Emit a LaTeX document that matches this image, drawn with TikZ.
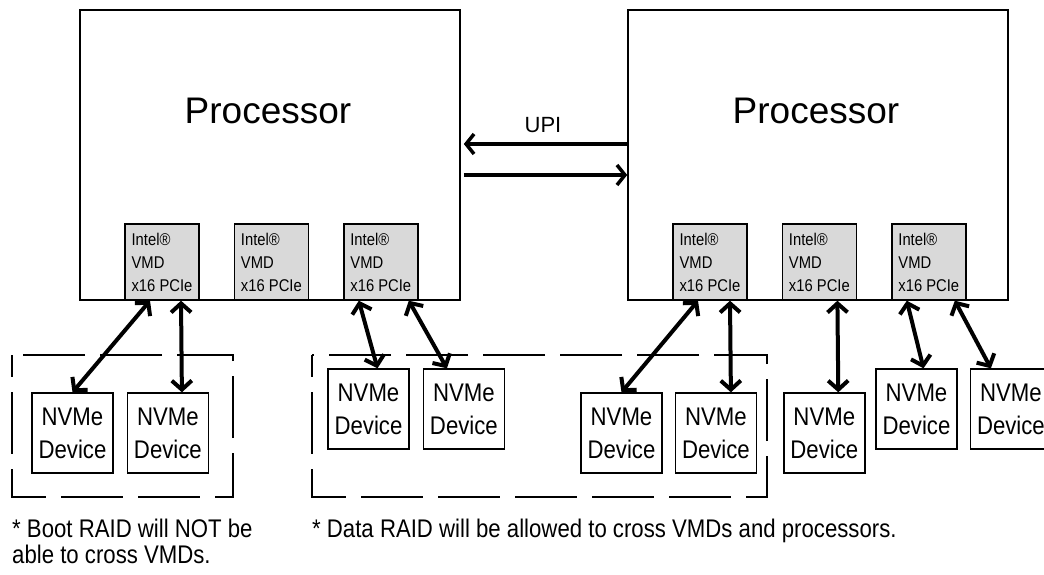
\documentclass[tikz,border=0pt]{standalone}
\usepackage{fontspec}
\setmainfont{Liberation Sans}
\newfontfamily\narrowfont{Liberation Sans}[FakeStretch=0.87]
\usetikzlibrary{arrows.meta, positioning}

\begin{document}
\begin{tikzpicture}[x=1pt, y=-1pt,
    proc/.style={rectangle, draw=black, line width=1.6pt, minimum width=380pt, minimum height=290pt, inner sep=0pt},
    proclabel/.style={font=\fontsize{37}{40}\selectfont, anchor=base, inner sep=0pt},
    vmd/.style={rectangle, draw=black, line width=1.4pt, fill=black!15, minimum width=74pt, minimum height=76pt, inner sep=0pt, align=left, font=\narrowfont\fontsize{17}{23}\selectfont},
    dev/.style={rectangle, draw=black, line width=1.4pt, fill=white, minimum width=81pt, minimum height=80pt, inner sep=0pt, align=center, font=\narrowfont\fontsize{25.5}{33}\selectfont},
    raidbox/.style={draw=black, line width=1.2pt, dash pattern=on 62pt off 15pt, dash phase=40pt},
    link/.style={<->, >={Straight Barb[length=9pt,width=20pt]}, line width=4pt},
    upi/.style={->, >={Straight Barb[length=8pt,width=20pt]}, line width=3.5pt},
    note/.style={anchor=base west, align=left, font=\narrowfont\fontsize{25.5}{26}\selectfont, inner sep=0pt},
    node distance=34pt
]
\useasboundingbox (0,0) rectangle (1044,574);

% processors
\node[proc] (procL) at (270,155) {};
\node[proc] (procR) at (818,155) {};
\node[proclabel] (txtL) at (268,123) {Processor};
\node[proclabel] (txtR) at (816,123) {Processor};

% UPI link
\node[anchor=base, inner sep=0pt, font=\fontsize{22}{26}\selectfont] (upitxt) at (543,132) {UPI};
\draw[upi] ([yshift=11pt]procR.west) -- ([yshift=11pt,xshift=3pt]procL.east);
\draw[upi] ([yshift=-20pt,xshift=3pt]procL.east) -- ([yshift=-20pt]procR.west);

% VMD blocks
\node[vmd] (vmdL1) at (162,262) {Intel®\\VMD\\x16 PCIe};
\node[vmd, right=of vmdL1] (vmdL2) {Intel®\\VMD\\x16 PCIe};
\node[vmd, right=of vmdL2] (vmdL3) {Intel®\\VMD\\x16 PCIe};
\node[vmd] (vmdR1) at (710,262) {Intel®\\VMD\\x16 PCIe};
\node[vmd, right=of vmdR1] (vmdR2) {Intel®\\VMD\\x16 PCIe};
\node[vmd, right=of vmdR2] (vmdR3) {Intel®\\VMD\\x16 PCIe};

% RAID groups
\draw[raidbox] (12,355) rectangle (233,497);
\draw[raidbox] (312,355) rectangle (767,497);

% NVMe devices
\node[dev] (devA) at (72.5,433) {NVMe\\Device};
\node[dev, right=13pt of devA] (devB) {NVMe\\Device};
\node[dev] (devC) at (368.5,409) {NVMe\\Device};
\node[dev, right=13pt of devC] (devD) {NVMe\\Device};
\node[dev] (devE) at (621.5,433) {NVMe\\Device};
\node[dev, right=12pt of devE] (devF) {NVMe\\Device};
\node[dev, right=26pt of devF] (devG) {NVMe\\Device};
\node[dev] (devH) at (916.5,409) {NVMe\\Device};
\node[dev, right=12pt of devH] (devI) {NVMe\\Device};

% links
\draw[link] ([xshift=-12pt]vmdL1.south) -- (devA.north);
\draw[link] ([xshift=19pt]vmdL1.south) -- ([xshift=14pt]devB.north);
\draw[link] ([xshift=-22pt]vmdL3.south) -- ([xshift=9pt]devC.north);
\draw[link] ([xshift=28pt]vmdL3.south) -- ([xshift=-17pt]devD.north);
\draw[link] ([xshift=-12pt]vmdR1.south) -- (devE.north);
\draw[link] ([xshift=20pt]vmdR1.south) -- ([xshift=15pt]devF.north);
\draw[link] ([xshift=18pt]vmdR2.south) -- ([xshift=14pt]devG.north);
\draw[link] ([xshift=-22pt]vmdR3.south) -- ([xshift=7pt]devH.north);
\draw[link] ([xshift=26pt]vmdR3.south) -- ([xshift=-20pt]devI.north);

% notes
\node[note] (bootnote) at (12,563) {* Boot RAID will NOT be\\able to cross VMDs.};
\node[note] (datanote) at (312,537) {* Data RAID will be allowed to cross VMDs and processors.};
\end{tikzpicture}
\end{document}
